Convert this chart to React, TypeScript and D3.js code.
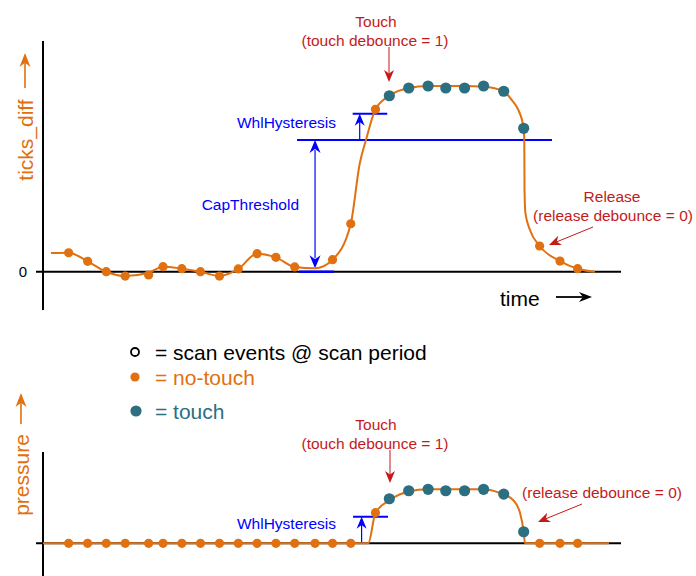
import React from "react";
import * as d3 from "d3";

// ---- data ----
const scanTimes = [0.98, 1.98, 2.96, 3.96, 5.19, 5.95, 6.94, 7.92, 8.92, 9.91, 10.9, 11.89, 12.88, 13.95, 14.87, 15.83, 17.13, 17.86, 18.88, 19.9, 20.83, 21.82, 22.82, 23.88, 24.93, 25.77, 26.84, 27.77];
const ticksDiffSamples: (number | null)[] = [14.4, 7.9, 0, -3.3, -2.5, 3.8, 2.3, 0, -3.3, 2.1, 13.7, 10.9, 3.6, null, 9.1, 36.4, 123.3, 133.6, 139.5, 141, 139.5, 139.5, 141, 137, 108.9, 19.5, 8.1, 2.3];
const pressureSamples = [0, 0, 0, 0, 0, 0, 0, 0, 0, 0, 0, 0, 0, 0, 0, 0, 23, 33.5, 39.5, 40.6, 39.5, 39.5, 40.6, 37, 8.7, 0, 0, 0];
const touchState = [0, 0, 0, 0, 0, 0, 0, 0, 0, 0, 0, 0, 0, 0, 0, 0, 0, 1, 1, 1, 1, 1, 1, 1, 1, 0, 0, 0];

const ticksSignalT = [0.05, 0.98, 1.98, 2.96, 3.96, 5.19, 5.95, 6.94, 7.92, 8.92, 9.91, 10.9, 11.89, 12.88, 13.95, 14.87, 15.83, 16.3, 16.63, 17.13, 17.86, 18.88, 19.9, 20.83, 21.82, 22.82, 23.88, 24.3, 24.65, 24.93, 24.963, 24.975, 25.02, 25.263, 25.77, 26.84, 27.77, 28.68];
const ticksSignalV = [14.2, 14.4, 7.9, 0, -3.3, -0.8, 3.8, 2.3, 0, -3.3, 2.1, 13.7, 10.9, 3.6, 2.6, 9.1, 36.4, 82, 100, 123.3, 133.6, 139.5, 141, 141, 141, 140.5, 137, 130.4, 122.8, 108.9, 100, 62, 44.6, 31.7, 19.5, 8.1, 2.3, 0];

const pressureSignalT = [-0.37, 16.75, 17.13, 17.89, 18.88, 19.9, 22.82, 23.68, 24.37, 24.74, 24.93, 25.0, 29.42];
const pressureSignalV = [0, 0, 23, 32.6, 38.9, 40.6, 40.6, 37.8, 32.6, 22.8, 8.7, 0, 0];

const capThreshold = 100;
const whlHysteresis = 20;
const pressureHysteresis = 20;

const legendItems = ["= scan events @ scan period", "= no-touch", "= touch"];

// ---- style ----
const ORANGE = "#e07010";
const TEAL = "#2b6f80";
const RED = "#c41a1a";
const BLUE = "#0000ff";
const FONT = "Liberation Sans, Arial, sans-serif";

function head(tx: number, ty: number, ang: number, L: number, W: number, notch = 0.3) {
  const ux = Math.cos(ang), uy = Math.sin(ang);
  const px = -uy, py = ux;
  const bx = tx - ux * L, by = ty - uy * L;
  const nx = tx - ux * L * (1 - notch), ny = ty - uy * L * (1 - notch);
  return `M${tx},${ty}L${bx + px * W / 2},${by + py * W / 2}L${nx},${ny}L${bx - px * W / 2},${by - py * W / 2}Z`;
}

function Arrow({ x1, y1, x2, y2, color, L = 12, W = 10, sw = 1.2 }: any) {
  const ang = Math.atan2(y2 - y1, x2 - x1);
  const ex = x2 - Math.cos(ang) * L * 0.7, ey = y2 - Math.sin(ang) * L * 0.7;
  return (
    <g>
      <line x1={x1} y1={y1} x2={ex} y2={ey} stroke={color} strokeWidth={sw} />
      <path d={head(x2, y2, ang, L, W)} fill={color} />
    </g>
  );
}

export default function App() {
  const x = d3.scaleLinear().domain([0, 30]).range([50, 620]);
  const yTop = d3.scaleLinear().domain([0, capThreshold]).range([271.7, 140]);
  const yBot = d3.scaleLinear().domain([0, pressureHysteresis]).range([543.3, 516.7]);

  const line = (ys: d3.ScaleLinear<number, number>) =>
    d3.line<[number, number]>().x((d) => x(d[0])).y((d) => ys(d[1])).curve(d3.curveMonotoneX);

  const topPath = line(yTop)(ticksSignalT.map((t, i) => [t, ticksSignalV[i]]))!;
  const botPath = line(yBot)(pressureSignalT.map((t, i) => [t, pressureSignalV[i]]))!;

  const y0 = yTop(0);
  const yTh = yTop(capThreshold);
  const yHy = yTop(capThreshold + whlHysteresis);
  const b0 = yBot(0);
  const bHy = yBot(pressureHysteresis);

  const dot = (cx: number, cy: number, i: number, key: string) =>
    touchState[i] ? (
      <circle key={key} cx={cx} cy={cy} r={5.6} fill={TEAL} />
    ) : (
      <circle key={key} cx={cx} cy={cy} r={4.6} fill={ORANGE} />
    );

  const minT = 13.95;
  const minV = 2.6;

  return (
    <svg width={696} height={576} style={{ position: "absolute", left: 0, top: 0 }} fontFamily={FONT}>
      <rect width={696} height={576} fill="#fff" />

      {/* ===== TOP CHART ===== */}
      <line x1={43} y1={41} x2={43} y2={310} stroke="#000" strokeWidth={2} />
      <line x1={36} y1={y0} x2={621} y2={y0} stroke="#000" strokeWidth={2} />
      <text x={23} y={y0} fontSize={15} textAnchor="middle" dominantBaseline="central" fill="#000">0</text>
      <text transform={`translate(25,140) rotate(-90)`} fontSize={21} textAnchor="middle" dominantBaseline="central" fill={ORANGE}>ticks_diff</text>
      <Arrow x1={25} y1={88} x2={25} y2={53} color={ORANGE} L={14} W={11} sw={1.6} />

      <line x1={x(13.0)} y1={yTh} x2={x(26.42)} y2={yTh} stroke={BLUE} strokeWidth={2} />
      <line x1={x(15.93)} y1={yHy} x2={x(17.75)} y2={yHy} stroke={BLUE} strokeWidth={2} />
      <line x1={x(13.1)} y1={y0} x2={x(14.95)} y2={y0} stroke={BLUE} strokeWidth={2.5} />
      <line x1={x(minT)} y1={yTh + 10} x2={x(minT)} y2={yTop(minV) - 10} stroke={BLUE} strokeWidth={1.2} />
      <path d={head(x(minT), yTh, -Math.PI / 2, 13, 11, 0.3)} fill={BLUE} />
      <path d={head(x(minT), yTop(minV), Math.PI / 2, 13, 11, 0.3)} fill={BLUE} />
      <Arrow x1={x(16.3)} y1={yTh} x2={x(16.3)} y2={yHy} color={BLUE} L={12} W={10} sw={1.2} />
      <text x={299} y={204} fontSize={15.5} textAnchor="end" dominantBaseline="central" fill={BLUE}>CapThreshold</text>
      <text x={336} y={122} fontSize={15.5} textAnchor="end" dominantBaseline="central" fill={BLUE}>WhlHysteresis</text>

      <path d={topPath} fill="none" stroke={ORANGE} strokeWidth={2} />
      {scanTimes.map((t, i) => {
        const v = ticksDiffSamples[i];
        return v === null ? null : dot(x(t), yTop(v), i, "t" + i);
      })}

      <text x={376} y={21} fontSize={15.5} textAnchor="middle" dominantBaseline="central" fill={RED}>Touch</text>
      <text x={375} y={40} fontSize={15.5} textAnchor="middle" dominantBaseline="central" fill={RED}>(touch debounce = 1)</text>
      <Arrow x1={389} y1={47} x2={389} y2={82} color={RED} L={12} W={10} sw={1} />
      <text x={612} y={196} fontSize={15.5} textAnchor="middle" dominantBaseline="central" fill={RED}>Release</text>
      <text x={613} y={215} fontSize={15.5} textAnchor="middle" dominantBaseline="central" fill={RED}>(release debounce = 0)</text>
      <Arrow x1={593} y1={227} x2={549} y2={245} color={RED} L={12} W={10} sw={1} />

      <text x={500} y={298} fontSize={21} dominantBaseline="central" fill="#000">time</text>
      <Arrow x1={556} y1={297} x2={592} y2={297} color="#000" L={13} W={10} sw={1.8} />

      {/* ===== LEGEND ===== */}
      <circle cx={135} cy={352} r={4} fill="#fff" stroke="#000" strokeWidth={1.8} />
      <text x={155} y={352} fontSize={21} dominantBaseline="central" fill="#000">{legendItems[0]}</text>
      <circle cx={135} cy={377} r={4.6} fill={ORANGE} />
      <text x={155} y={377} fontSize={21} dominantBaseline="central" fill={ORANGE}>{legendItems[1]}</text>
      <circle cx={136} cy={411} r={5.6} fill={TEAL} />
      <text x={155} y={411} fontSize={21} dominantBaseline="central" fill={TEAL}>{legendItems[2]}</text>

      {/* ===== BOTTOM CHART ===== */}
      <line x1={43} y1={452} x2={43} y2={576} stroke="#000" strokeWidth={2} />
      <line x1={36} y1={b0} x2={621} y2={b0} stroke="#000" strokeWidth={2} />
      <text transform={`translate(21,475) rotate(-90)`} fontSize={21} textAnchor="middle" dominantBaseline="central" fill={ORANGE}>pressure</text>
      <Arrow x1={21} y1={424} x2={21} y2={393} color={ORANGE} L={14} W={11} sw={1.6} />

      <line x1={x(15.95)} y1={bHy} x2={x(17.79)} y2={bHy} stroke={BLUE} strokeWidth={2} />
      <Arrow x1={x(16.4)} y1={b0} x2={x(16.4)} y2={bHy} color={BLUE} L={12} W={10} sw={1.2} />
      <text x={336} y={523} fontSize={15.5} textAnchor="end" dominantBaseline="central" fill={BLUE}>WhlHysteresis</text>

      <path d={botPath} fill="none" stroke={ORANGE} strokeWidth={2} />
      {scanTimes.map((t, i) => dot(x(t), yBot(pressureSamples[i]), i, "b" + i))}

      <text x={376} y={424} fontSize={15.5} textAnchor="middle" dominantBaseline="central" fill={RED}>Touch</text>
      <text x={375} y={443} fontSize={15.5} textAnchor="middle" dominantBaseline="central" fill={RED}>(touch debounce = 1)</text>
      <Arrow x1={390} y1={450} x2={390} y2={483} color={RED} L={12} W={10} sw={1} />
      <text x={602} y={492} fontSize={15.5} textAnchor="middle" dominantBaseline="central" fill={RED}>(release debounce = 0)</text>
      <Arrow x1={582} y1={504} x2={538} y2={522} color={RED} L={12} W={10} sw={1} />
    </svg>
  );
}
